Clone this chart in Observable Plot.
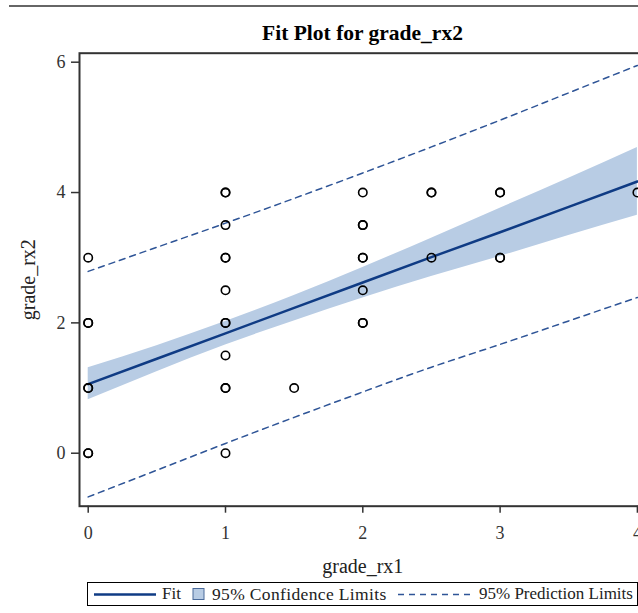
<!DOCTYPE html>
<html><head><meta charset="utf-8">
<script src="https://cdn.jsdelivr.net/npm/d3@7"></script>
<script src="https://cdn.jsdelivr.net/npm/@observablehq/plot@0.6"></script>
<style>
html,body{margin:0;padding:0;background:#fff;overflow:hidden;width:638px;height:613px;}
#root{position:relative;width:638px;height:613px;overflow:hidden;font-family:"Liberation Serif","Times New Roman",serif;}
#topline{position:absolute;left:9px;right:0;top:5px;height:0;border-top:2px solid #666;}
#title{position:absolute;left:79px;width:567px;top:21px;text-align:center;font-weight:bold;font-size:21.5px;color:#000;white-space:nowrap;}
#chart{position:absolute;left:0;top:0;width:660px;}
#chart svg{max-width:none !important;}
#legend{position:absolute;left:87px;top:582px;width:551px;height:24px;border:1px solid #000;box-sizing:border-box;font-size:17px;color:#222;}
#legend .it{position:absolute;top:0;height:22px;line-height:22px;white-space:nowrap;}
</style></head>
<body>
<div id="root">
  <div id="topline"></div>
  <div id="title">Fit Plot for grade_rx2</div>
  <div id="chart"></div>
  <div id="legend">
    <svg class="it" style="left:6px;top:0" width="62" height="22"><line x1="0" y1="11.5" x2="62" y2="11.5" stroke="#0f3b84" stroke-width="2.5"/></svg>
    <span class="it" style="left:74px">Fit</span>
    <svg class="it" style="left:104px;top:0" width="14" height="22"><rect x="1" y="5.5" width="11" height="11" fill="#b8cce4" stroke="#4a6a9a" stroke-width="1"/></svg>
    <span class="it" style="left:124px;font-size:17.5px;letter-spacing:0.35px">95% Confidence Limits</span>
    <svg class="it" style="left:310px;top:0" width="72" height="22"><line x1="0" y1="11.5" x2="72" y2="11.5" stroke="#2f5597" stroke-width="1.5" stroke-dasharray="6,5"/></svg>
    <span class="it" style="left:391px">95% Prediction Limits</span>
  </div>
</div>
<script>
// Observed points (grade_rx1, grade_rx2); repeated rows are overlapping observations
const ptX = [0,0,0,0,0,0,0,
             1,1,1,1,1,1,1,1,1,1,1,1,
             1.5,
             2,2,2,2,2,2,2,2,
             2.5,2.5,2.5,
             3,3,3,3,
             4];
const ptY = [0,0,1,1,2,2,3,
             0,1,1,1.5,2,2,2.5,3,3,3.5,4,4,
             1,
             2,2,2.5,3,3,3.5,3.5,4,
             3,4,4,
             3,3,4,4,
             4];

// Fit line and limits read at grid positions
const gridX   = [0, 0.5, 1, 1.5, 2, 2.5, 3, 3.5, 4];
const fitY    = [1.06, 1.45, 1.84, 2.23, 2.62, 3.01, 3.39, 3.78, 4.17];
const clLower = [0.82, 1.25, 1.66, 2.03, 2.38, 2.71, 3.02, 3.34, 3.65];
const clUpper = [1.31, 1.65, 2.02, 2.42, 2.85, 3.30, 3.76, 4.22, 4.69];
const plLower = [-0.67, -0.26, 0.15, 0.55, 0.94, 1.32, 1.67, 2.03, 2.39];
const plUpper = [2.79, 3.16, 3.53, 3.91, 4.30, 4.70, 5.11, 5.53, 5.95];

const xTicks = [0, 1, 2, 3, 4];
const yTicks = [0, 2, 4, 6];
const xLabel = "grade_rx1";
const yLabel = "grade_rx2";

const points = ptX.map((x, i) => ({x, y: ptY[i]}));
const curve = gridX.map((x, i) => ({x, fit: fitY[i], lo: clLower[i], hi: clUpper[i], plo: plLower[i], phi: plUpper[i]}));

const chart = Plot.plot({
  width: 660, height: 580,
  marginLeft: 79, marginRight: 14.4, marginTop: 52.7, marginBottom: 74.3,
  x: {domain: [-0.0634, 4.0634]},
  y: {domain: [-0.813, 6.138]},
  style: {fontFamily: "'Liberation Serif','Times New Roman',serif", fontSize: "18px", color: "#333", background: "transparent", overflow: "visible", maxWidth: "none"},
  marks: [
    Plot.areaY(curve, {x: "x", y1: "lo", y2: "hi", fill: "#b8cce4", curve: "natural"}),
    Plot.lineY(curve, {x: "x", y: "plo", stroke: "#2f5597", strokeWidth: 1.5, strokeDasharray: "6,5", curve: "natural"}),
    Plot.lineY(curve, {x: "x", y: "phi", stroke: "#2f5597", strokeWidth: 1.5, strokeDasharray: "6,5", curve: "natural"}),
    Plot.lineY(curve, {x: "x", y: "fit", stroke: "#0f3b84", strokeWidth: 2.5}),
    Plot.dot(points, {x: "x", y: "y", r: 4.2, stroke: "#000", strokeWidth: 1.6, fill: "none"}),
    Plot.frame({stroke: "#333", strokeWidth: 2}),
    Plot.axisX({ticks: xTicks, tickFormat: d3.format("d"), tickSize: 7, tickPadding: 13, strokeWidth: 1.5, label: null, fill: "#333"}),
    Plot.axisY({ticks: yTicks, tickFormat: d3.format("d"), tickSize: 8, tickPadding: 6, strokeWidth: 1.5, label: null, fill: "#333"}),
    Plot.text([xLabel], {frameAnchor: "bottom", dy: 60, text: d => d, fontSize: 20, fill: "#222", lineAnchor: "middle", textAnchor: "middle"}),
    Plot.text([yLabel], {frameAnchor: "left", dx: -51, rotate: -90, text: d => d, fontSize: 20, fill: "#222", lineAnchor: "middle", textAnchor: "middle"})
  ]
});
document.getElementById("chart").appendChild(chart);
</script>
</body></html>
